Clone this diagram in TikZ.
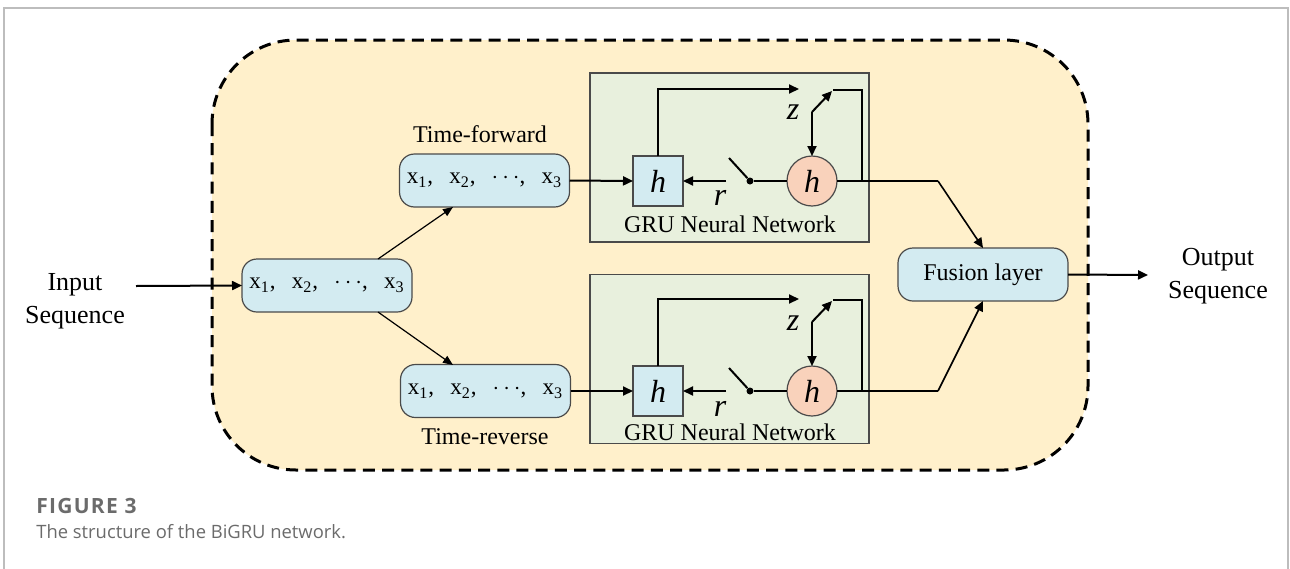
\documentclass[tikz,border=0pt]{standalone}
\usepackage{fontspec}
\setmainfont{Liberation Serif}
\newfontfamily\capfont{Open Sans}
\newfontfamily\capfontsp[LetterSpace=6]{Open Sans}
\usetikzlibrary{arrows.meta}
\definecolor{seqblue}{HTML}{D3EBF1}
\definecolor{grugreen}{HTML}{E8F0DD}
\definecolor{outeryellow}{HTML}{FFF0CB}
\definecolor{peach}{HTML}{F9D2BB}
\definecolor{edgegray}{HTML}{4A4A4A}
\definecolor{framegray}{HTML}{BDBDBD}
\definecolor{capgray}{HTML}{6B6B6B}
\tikzset{
  seqbox/.style={draw=edgegray, line width=0.6pt, fill=seqblue, rounded corners=7.5pt,
    minimum width=85pt, minimum height=26.5pt, inner sep=0pt, outer sep=0pt,
    font=\fontsize{11.5pt}{13pt}\selectfont},
  grubox/.style={draw=edgegray, line width=0.6pt, fill=grugreen, minimum width=139.5pt,
    minimum height=84.5pt, inner sep=0pt, outer sep=0pt},
  hsq/.style={draw=edgegray, line width=0.6pt, fill=seqblue, minimum size=25pt, inner sep=0pt,
    outer sep=0pt, font=\fontsize{16pt}{18pt}\selectfont\itshape},
  hcirc/.style={circle, draw=edgegray, line width=0.6pt, fill=peach, minimum size=25pt, inner sep=0pt,
    outer sep=0pt, font=\fontsize{16pt}{18pt}\selectfont\itshape},
  lbl/.style={inner sep=0pt, font=\fontsize{12pt}{14pt}\selectfont},
  big/.style={inner sep=0pt, align=center, font=\fontsize{13pt}{16.5pt}\selectfont},
  ital/.style={inner sep=0pt, font=\fontsize{16pt}{18pt}\selectfont\itshape},
  arr/.style={-{Triangle[length=5pt,width=4.5pt]}, line width=1pt},
  thinarr/.style={-{Triangle[length=5pt,width=4pt]}, line width=0.6pt},
  medarr/.style={-{Triangle[length=5pt,width=4.5pt]}, line width=0.8pt},
  ln/.style={line width=1pt},
  swdot/.style={circle, fill=black, minimum size=3.5pt, inner sep=0pt},
  captxt/.style={inner sep=0pt, anchor=base west, text=capgray},
}
\newcommand{\xseq}{x\textsubscript{1},\hspace{0.7em}x\textsubscript{2},\hspace{0.7em}$\cdots$,\hspace{0.7em}x\textsubscript{3}}
\begin{document}
\begin{tikzpicture}[x=0.5pt, y=-0.5pt]
\useasboundingbox (0,0) rectangle (1290,568);
% frame
\draw[framegray, line width=0.75pt] (4,600) -- (4,8) -- (1288,8) -- (1288,600);
% outer dashed region
\draw[fill=outeryellow, line width=1.5pt, dash pattern=on 6pt off 3.6pt, rounded corners=42pt]
  (212,40) rectangle (1088,470);

% input/output texts
\node[big] (inp) at (75,301) {Input\\Sequence};
\node[big] (outp) at (1218,276) {Output\\Sequence};

% sequence boxes
\node[seqbox] (inbox) at (327,285.5) {\xseq};
\node[seqbox] (fwd) at (484.5,180.5) {\xseq};
\node[seqbox] (rev) at (485.5,391) {\xseq};
\node[lbl] (fwdl) at (480,134) {Time-forward};
\node[lbl] (revl) at (485,437) {Time-reverse};

% GRU boxes
\node[grubox] (gru1) at (729.5,157.5) {};
\node[grubox] (gru2) at (729.5,359) {};
\node[lbl] (gru1l) at (730,224) {GRU Neural Network};
\node[lbl] (gru2l) at (730,432) {GRU Neural Network};

% fusion
\node[seqbox, font=\fontsize{12pt}{14pt}\selectfont] (fus) at (983,274.5) {Fusion layer};

% ---- top GRU internals
\node[hsq] (sq1) at (658,181) {h};
\node[hcirc] (c1) at (812,181) {h};
\node[swdot] (d1) at (750,181) {};
\coordinate (lev1) at (729,158);
\coordinate (sw1) at (726,181);
\coordinate (u1) at (658,89);
\coordinate (t1) at (799,89);
\coordinate (zs1) at (812,112);
\coordinate (ze1) at (832,91);
\coordinate (fb1a) at (833,90);
\coordinate (fb1b) at (862,90);
\coordinate (fb1c) at (862,181);
\coordinate (j1) at (938,181);
\node[ital] (r1) at (720,198) {r};
\node[ital] (z1) at (793,112) {z};

% ---- bottom GRU internals
\node[hsq] (sq2) at (658,391) {h};
\node[hcirc] (c2) at (812,391) {h};
\node[swdot] (d2) at (750,391) {};
\coordinate (lev2) at (729,368);
\coordinate (sw2) at (726,391);
\coordinate (u2) at (658,299);
\coordinate (t2) at (799,299);
\coordinate (zs2) at (812,322);
\coordinate (ze2) at (832,301);
\coordinate (fb2a) at (833,300);
\coordinate (fb2b) at (862,300);
\coordinate (fb2c) at (862,391);
\coordinate (j2) at (938,391);
\node[ital] (r2) at (720,409) {r};
\node[ital] (z2) at (793,323) {z};

\coordinate (instart) at (136,286);
\coordinate (outend) at (1148,275);
\coordinate (ia) at (378,259);
\coordinate (ib) at (453,207);
\coordinate (ic) at (378,312);
\coordinate (id) at (453,365);

% connectors
\draw[arr] (instart) -- (inbox.west);
\draw[thinarr] (ia) -- (ib);
\draw[thinarr] (ic) -- (id);
\draw[arr] (fwd.east) -- (sq1.west);
\draw[arr] (rev.east) -- (sq2.west);

\foreach \i in {1,2}{
  \draw[arr] (sw\i) -- (sq\i.east);
  \draw[ln] (d\i) -- (lev\i);
  \draw[ln] (d\i) -- (c\i.west);
  \draw[arr] (sq\i.north) |- (t\i);
  \draw[arr] (zs\i) -- (ze\i);
  \draw[arr] (zs\i) -- (c\i.north);
  \draw[ln] (fb\i a) -- (fb\i b) -- (fb\i c);
}
\draw[ln] (c1.east) -- (j1);
\draw[ln] (c2.east) -- (j2);
\draw[medarr] (j1) -- (fus.north);
\draw[medarr] (j2) -- (fus.south);
\draw[arr] (fus.east) -- (outend);

% caption
\node[captxt, font=\capfontsp\bfseries\fontsize{10.5pt}{12pt}\selectfont] (cap1) at (36,513) {FIGURE 3};
\node[captxt, font=\capfont\fontsize{9.2pt}{11pt}\selectfont] (cap2) at (36,538) {The structure of the BiGRU network.};
\end{tikzpicture}
\end{document}
